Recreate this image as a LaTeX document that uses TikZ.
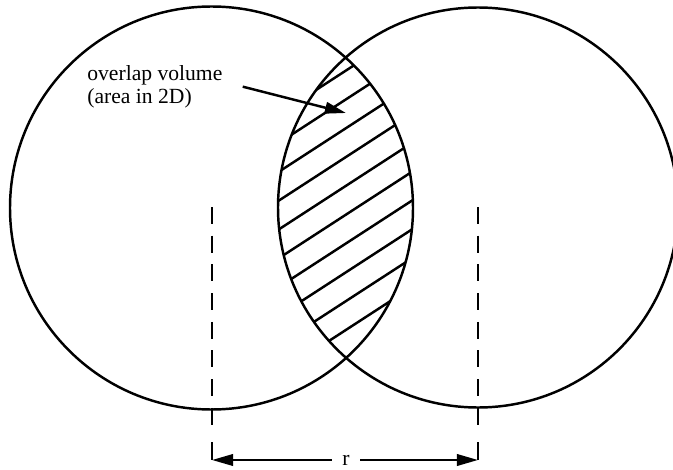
\documentclass[tikz,border=0pt]{standalone}
\usepackage{fontspec}
\setmainfont{Liberation Serif}
\usetikzlibrary{arrows.meta, positioning, calc}

\begin{document}
\begin{tikzpicture}[
    x=0.02cm, y=-0.02cm,
    outline/.style={line width=1.4pt},
    hatch/.style={line width=1.4pt},
    centreline/.style={line width=1.4pt, dash pattern=on 0.34cm off 0.234cm},
    pointer/.style={-{Triangle[length=12pt, width=6.5pt]}, line width=1.4pt},
    note/.style={font=\fontsize{12.3}{13.1}\selectfont, align=left, inner sep=0pt},
    dimtext/.style={font=\fontsize{12.3}{13.1}\selectfont, inner xsep=6pt, inner ysep=0pt}
]
\useasboundingbox (0,0) rectangle (673,470);

% centres of the two spheres
\coordinate (left)  at (211.5,208);
\coordinate (right) at (478,207.5);

% hatching of the overlap
\begin{scope}
  \clip (left) circle[radius=201.5];
  \clip (right) circle[radius=200];
  \foreach \k in {0,...,9}{
    \pgfmathsetmacro{\hc}{465.1-24.17*\k}
    \draw[hatch] (250,{(\hc-136.15)/0.8387}) -- (450,{(\hc-245.07)/0.8387});
  }
\end{scope}

\draw[outline] (left) circle[radius=201.5];
\draw[outline] (right) circle[radius=200];

% centre lines
\draw[centreline] (212,207) -- (212,425);
\draw[centreline] (478,207) -- (478,425);

% distance r
\coordinate (dimL) at (212,460);
\coordinate (dimR) at (478,460);
\draw[outline] (212,442) -- (dimL);
\draw[outline] (478,442) -- (dimR);
\node[dimtext] (dist) at (346,460) {r};
\draw[pointer] (dist) -- (dimL);
\draw[pointer] (dist) -- (dimR);

% label of the overlap
\node[note, anchor=north west] (overlap) at (87,65) {overlap volume\\(area in 2D)};
\coordinate (lens) at (346,113);
\draw[pointer] ([xshift=0.4cm]overlap.east) -- (lens);
\end{tikzpicture}
\end{document}
